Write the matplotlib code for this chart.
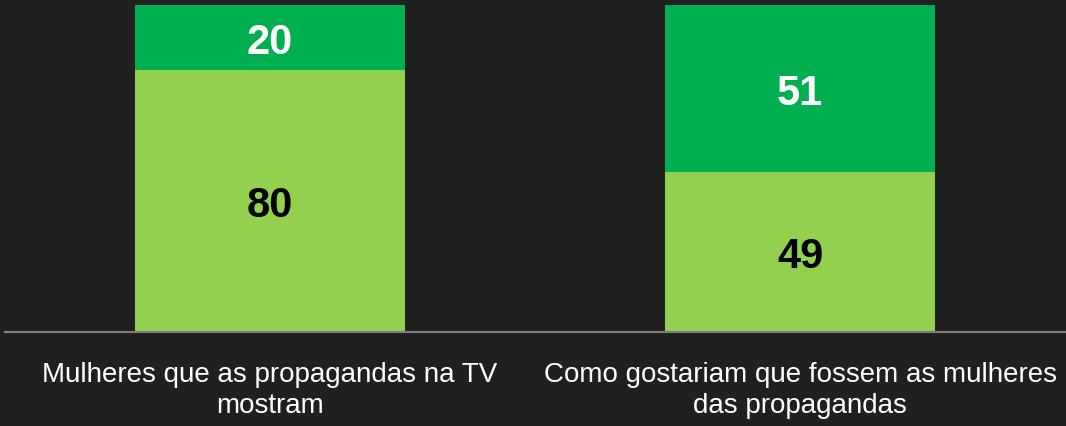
import matplotlib.pyplot as plt

# --- dados ---
categorias = ["Mulheres que as propagandas na TV\nmostram",
              "Como gostariam que fossem as mulheres\ndas propagandas"]
base = [80, 49]      # verde claro
topo = [20, 51]      # verde escuro

fundo = "#202020"
verde_claro = "#92D050"
verde_escuro = "#00AF50"

plt.rcParams['font.family'] = ['Liberation Sans', 'DejaVu Sans']

fig = plt.figure(figsize=(10.66, 4.27), dpi=100, facecolor=fundo)
ax = fig.add_axes([5 / 1066, 1 - 333 / 427, 1060 / 1066, 327 / 427])
ax.set_facecolor(fundo)

x = list(range(len(categorias)))
ax.bar(x, base, width=0.51, color=verde_claro)
ax.bar(x, topo, width=0.51, bottom=base, color=verde_escuro)

# rótulos dentro das barras (um pouco abaixo do centro, como no original)
for i in x:
    ax.annotate(str(base[i]), (i, base[i] / 2), xytext=(0, -3),
                textcoords='offset points', ha='center', va='center',
                fontsize=30, fontweight='bold', color='black')
    ax.annotate(str(topo[i]), (i, base[i] + topo[i] / 2), xytext=(0, -3),
                textcoords='offset points', ha='center', va='center',
                fontsize=30, fontweight='bold', color='white')

ax.set_xlim(-0.5, 1.5)
ax.set_ylim(0, 100)
ax.set_yticks([])
ax.set_xticks(x)
ax.set_xticklabels(categorias, fontsize=20, color='white', linespacing=1.25)
ax.tick_params(axis='x', length=0, pad=21)

for lado in ['top', 'left', 'right']:
    ax.spines[lado].set_visible(False)
ax.spines['bottom'].set_color('#7f7f7f')
ax.spines['bottom'].set_linewidth(1.5)

fig.savefig("out.png", dpi=100, facecolor=fundo)
